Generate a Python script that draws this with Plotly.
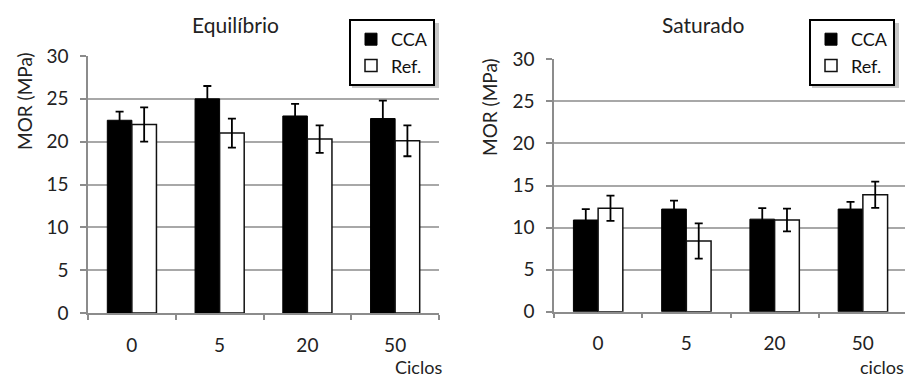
import plotly.graph_objects as go

categories = ["0", "5", "20", "50"]
eq_cca = [22.5, 25.0, 23.0, 22.7]
eq_cca_err = [1.0, 1.5, 1.4, 2.1]
eq_ref = [22.0, 21.0, 20.3, 20.1]
eq_ref_err = [2.0, 1.7, 1.6, 1.8]
sat_cca = [10.9, 12.2, 11.0, 12.2]
sat_cca_err = [1.3, 1.0, 1.3, 0.85]
sat_ref = [12.3, 8.4, 10.9, 13.9]
sat_ref_err = [1.5, 2.1, 1.35, 1.55]
y_ticks = [0, 5, 10, 15, 20, 25, 30]

FONT = "Lato"
FS = 19
OFF = 8  # default page body margin
W, H = 913 - OFF, 378 - OFF


def px(x):
    return (x - OFF) / W


def py(y):
    return 1 - (y - OFF) / H


def err(vals):
    return dict(type="data", array=vals, visible=True, color="black", thickness=1.8, width=4)


fig = go.Figure()
fig.add_trace(go.Bar(x=categories, y=eq_cca, name="CCA",
                     marker=dict(color="black", line=dict(color="black", width=1)),
                     error_y=err(eq_cca_err), xaxis="x", yaxis="y", legend="legend"))
fig.add_trace(go.Bar(x=categories, y=eq_ref, name="Ref.",
                     marker=dict(color="white", line=dict(color="#111", width=1.5)),
                     error_y=err(eq_ref_err), xaxis="x", yaxis="y", legend="legend"))
fig.add_trace(go.Bar(x=categories, y=sat_cca, name="CCA",
                     marker=dict(color="black", line=dict(color="black", width=1)),
                     error_y=err(sat_cca_err), xaxis="x2", yaxis="y2", legend="legend2"))
fig.add_trace(go.Bar(x=categories, y=sat_ref, name="Ref.",
                     marker=dict(color="white", line=dict(color="#111", width=1.5)),
                     error_y=err(sat_ref_err), xaxis="x2", yaxis="y2", legend="legend2"))

AX = "#8c8c8c"


def xax(domain, anchor):
    return dict(domain=domain, anchor=anchor, type="category", showline=True, linecolor=AX, linewidth=1.5,
                ticks="outside", tickson="boundaries", ticklen=5, tickcolor=AX, tickwidth=1.5,
                ticklabelstandoff=14, showgrid=False, automargin=False,
                tickfont=dict(family=FONT, size=FS, color="#222"))


def yax(domain, anchor):
    return dict(domain=domain, anchor=anchor, range=[0, 30], tickvals=y_ticks, showline=True, linecolor=AX,
                linewidth=1.5, ticks="outside", ticklen=6, tickcolor=AX, tickwidth=1.5, showgrid=True,
                gridcolor="#a8a8a8", gridwidth=1.5, zeroline=False, ticklabelstandoff=8, automargin=False,
                tickfont=dict(family=FONT, size=FS, color="#222"))


leg_common = dict(bordercolor="black", borderwidth=2, bgcolor="white", font=dict(family=FONT, size=18, color="#111"),
                  xanchor="right", yanchor="top", itemwidth=30, tracegroupgap=0)

annotations = [
    dict(text="Equilíbrio", x=px(235), y=py(25), font=dict(family=FONT, size=21, color="#222")),
    dict(text="Saturado", x=px(703), y=py(25), font=dict(family=FONT, size=21, color="#222")),
    dict(text="Ciclos", x=px(418), y=py(367), font=dict(family=FONT, size=18, color="#222")),
    dict(text="ciclos", x=px(882), y=py(367), font=dict(family=FONT, size=18, color="#222")),
    dict(text="MOR (MPa)", x=px(24), y=py(101), textangle=-90, font=dict(family=FONT, size=FS, color="#222")),
    dict(text="MOR (MPa)", x=px(490), y=py(107), textangle=-90, font=dict(family=FONT, size=FS, color="#222")),
]
for a in annotations:
    a.update(xref="paper", yref="paper", showarrow=False, xanchor="center", yanchor="middle")

shadows = [
    dict(type="rect", xref="paper", yref="paper", x0=px(352), x1=px(439), y0=py(23), y1=py(88),
         fillcolor="rgba(0,0,0,0.22)", line=dict(width=0), layer="above"),
    dict(type="rect", xref="paper", yref="paper", x0=px(812), x1=px(899), y0=py(23), y1=py(88),
         fillcolor="rgba(0,0,0,0.22)", line=dict(width=0), layer="above"),
]

fig.update_layout(
    width=W, height=H, margin=dict(l=0, r=0, t=0, b=0, autoexpand=False), paper_bgcolor="white",
    plot_bgcolor="white",
    barmode="group", bargap=0.44, bargroupgap=0,
    xaxis=xax([px(88), px(439)], "y"), yaxis=yax([py(313), py(56)], "x"),
    xaxis2=xax([px(554), px(907)], "y2"), yaxis2=yax([py(311.7), py(59.3)], "x2"),
    legend=dict(x=px(435), y=py(19), **leg_common),
    legend2=dict(x=px(895), y=py(19), **leg_common),
    annotations=annotations,
    shapes=shadows,
    showlegend=True,
)

fig.write_html("out.html")
